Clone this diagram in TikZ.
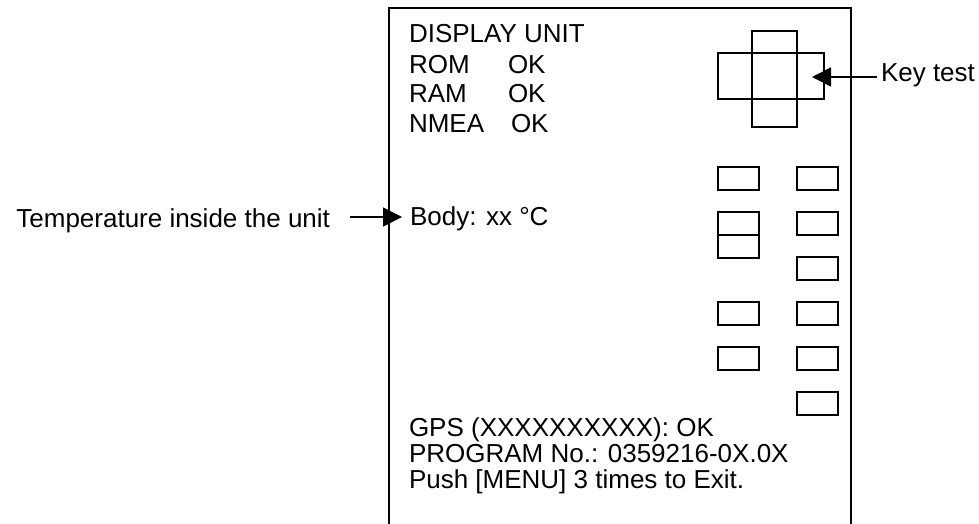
\documentclass[tikz,border=0pt]{standalone}
\usepackage{fontspec}
\setmainfont{Liberation Sans}
\usetikzlibrary{arrows.meta}
\tikzset{
  lbl/.style={inner sep=0pt, outer sep=0pt, anchor=base west, font=\fontsize{26}{30}\selectfont},
  keybox/.style={draw, line width=1.5pt},
  frameline/.style={draw, line width=1.8pt},
  pointer/.style={draw, line width=1.5pt, -{Triangle[length=19pt,width=19pt]}},
}
\begin{document}
\begin{tikzpicture}[x=1pt,y=-1pt]
\useasboundingbox (0,0) rectangle (979,524);
% frame (open at bottom)
\draw[frameline] (389,524) -- (389,8) -- (851,8) -- (851,524);
% top texts
\node[lbl] (disp) at (409,43) {DISPLAY UNIT};
\node[lbl] (rom) at (409,73.5) {ROM};
\node[lbl] (romok) at (508,73.5) {OK};
\node[lbl] (ram) at (409,102.5) {RAM};
\node[lbl] (ramok) at (508,102.5) {OK};
\node[lbl] (nmea) at (409,132) {NMEA};
\node[lbl] (nmeaok) at (511,132) {OK};
% body
\node[lbl] (body) at (410,225) {Body: xx °C};
\node[lbl, anchor=base east] (temp) at (330,227) {Temperature inside the unit};
% bottom texts
\node[lbl] (gps) at (409,436.5) {GPS (XXXXXXXXXX): OK};
\node[lbl] (prog) at (409,462) {PROGRAM No.: 0359216-0X.0X};
\node[lbl] (push) at (409,488) {Push [MENU] 3 times to Exit.};
% key test label
\node[lbl] (keytest) at (881,82) {Key test};
% cross keys
\draw[keybox] (752,31) rectangle (797,127);
\draw[keybox] (718,53) rectangle (824,99);
% small keys column 1
\foreach \y in {167,212,235,302,347}
  \draw[keybox] (718,\y) rectangle (759,\y+23);
% small keys column 2
\foreach \y in {167,212,257,302,347,392}
  \draw[keybox] (797,\y) rectangle (838,\y+23);
% arrows
\coordinate (kstart) at (877,77);
\coordinate (ktip) at (812,77);
\draw[pointer] (kstart) -- (ktip);
\coordinate (tstart) at (350,217);
\coordinate (ttip) at (402,217);
\draw[pointer] (tstart) -- (ttip);
\end{tikzpicture}
\end{document}
